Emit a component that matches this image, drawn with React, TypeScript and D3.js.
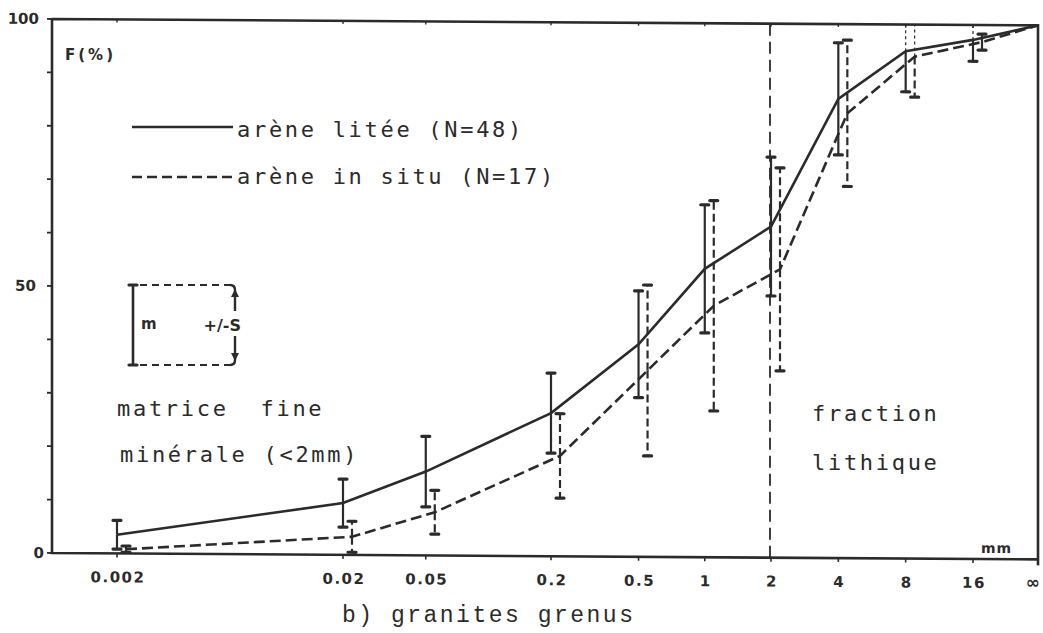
import React from "react";
import * as d3 from "d3";

// grain size classes (mm); 32 stands in for the "∞" end of the axis
const sizes = [0.002, 0.02, 0.05, 0.2, 0.5, 1, 2, 4, 8, 16, 32];
const sizeLabels = ["0.002", "0.02", "0.05", "0.2", "0.5", "1", "2", "4", "8", "16", "∞"];

// arène litée (N=48): mean cumulative % and standard deviation
const liteeMean = [3.5, 9.7, 15.7, 26.8, 39.8, 54, 62, 86, 95, 97.2, 100];
const liteeSd = [2.7, 4.5, 6.6, 7.5, 10, 12, 13, 10.5, 7.6, 4, 0];

// arène in situ (N=17)
const situMean = [0.8, 3.4, 8.1, 18.8, 34.9, 47.1, 54, 83.3, 94, 96.8, 100];
const situSd = [0.6, 2.9, 4.1, 7.9, 16, 19.7, 19, 13.7, 7.6, 1.5, 0];

const yTicks = [0, 10, 20, 30, 40, 50, 60, 70, 80, 90, 100];
const yLabels = [0, 50, 100];

const ink = "#2b2b2b";
const left = 52;
const shift = 9; // the in-situ bars are drawn a little to the right

const x = d3
  .scaleLog()
  .domain([0.002, 0.02, 0.2, 2, 16, 32])
  .range([117, 343, 551, 771, 973, 1038]);
const y = d3.scaleLinear().domain([0, 100]).range([553, 19]);
const right = x(32);

const last = sizes.length - 1;
const px = (i: number, situ: boolean) =>
  x(sizes[i]) + (situ && i < last ? shift : 0);

const ErrorBar = ({ cx, m, s, dashed }: { cx: number; m: number; s: number; dashed: boolean }) => {
  if (s <= 0) return null;
  const lo = Math.max(m - s, 0);
  const hi = m + s;
  const dash = dashed ? "8 4" : undefined;
  const w = 2.2;
  return (
    <g stroke={ink} fill="none">
      {hi > 99.5 ? (
        <line x1={cx} x2={cx} y1={y(m)} y2={y(100)} strokeWidth={1.2} strokeDasharray="3 3" />
      ) : (
        <>
          <line x1={cx} x2={cx} y1={y(m)} y2={y(hi)} strokeWidth={w} strokeDasharray={dash} />
          <line x1={cx - 4} x2={cx + 4} y1={y(hi)} y2={y(hi)} strokeWidth={3.2} strokeLinecap="round" />
        </>
      )}
      <line x1={cx} x2={cx} y1={y(m)} y2={y(lo)} strokeWidth={w} strokeDasharray={dash} />
      <line x1={cx - 4} x2={cx + 4} y1={y(lo)} y2={y(lo)} strokeWidth={3.2} strokeLinecap="round" />
    </g>
  );
};

const tickFont = "'DejaVu Sans', Verdana, sans-serif";
const monoFont = "'DejaVu Sans Mono', monospace";
const typeFont = "'Courier New', 'Liberation Mono', monospace";

export default function App() {
  const liteeLine = d3
    .line<number>()
    .x((d, i) => px(i, false))
    .y((d) => y(d));
  const situLine = d3
    .line<number>()
    .x((d, i) => px(i, true))
    .y((d) => y(d));

  return (
    <svg
      width={1043}
      height={633}
      style={{ position: "absolute", left: 0, top: 0, background: "#fff" }}
    >
      <g transform={`translate(${left} 0) skewY(0.37) translate(${-left} 0)`}>
        {/* frame */}
        <path
          d={`M${left},${y(100)} H${right} V${y(0) + 6} M${left},${y(100)} V${y(0)} H${right}`}
          fill="none"
          stroke={ink}
          strokeWidth={2.6}
        />
        {/* y ticks */}
        {yTicks.map((t) => (
          <line key={t} x1={left - 5} x2={left} y1={y(t)} y2={y(t)} stroke={ink} strokeWidth={1.8} />
        ))}
        {yLabels.map((t) => (
          <text
            key={t}
            x={t === 0 ? 44 : t === 50 ? 36 : 39}
            y={y(t) + 5}
            textAnchor="end"
            fontFamily={tickFont}
            fontWeight="bold"
            fontSize={15}
            fill={ink}
          >
            {t}
          </text>
        ))}
        {/* x ticks */}
        {sizes.map((s, i) => (
          <g key={i}>
            <line x1={x(s)} x2={x(s)} y1={y(0)} y2={y(0) + 4} stroke={ink} strokeWidth={1.6} />
            <line x1={x(s)} x2={x(s)} y1={y(100)} y2={y(100) + 3} stroke={ink} strokeWidth={1.4} />
            <text
              x={i === last ? x(s) + 2 : x(s) + 1}
              y={582}
              textAnchor={i === last ? "end" : "middle"}
              fontFamily={tickFont}
              fontWeight="bold"
              fontSize={i === last ? 17 : 15}
              letterSpacing={i === last ? 0 : 1.5}
              fill={ink}
            >
              {sizeLabels[i]}
            </text>
          </g>
        ))}
        <text x={x(16) + 8} y={y(0) - 6} fontFamily={tickFont} fontWeight="bold" fontSize={14} letterSpacing={1} fill={ink}>
          mm
        </text>

        {/* 2 mm limit */}
        <line
          x1={x(2) - 1}
          x2={x(2) - 1}
          y1={y(100)}
          y2={y(0)}
          stroke={ink}
          strokeWidth={1.8}
          strokeDasharray="12 6"
        />

        {/* curves */}
        <path d={liteeLine(liteeMean) ?? ""} fill="none" stroke={ink} strokeWidth={2.6} />
        <path
          d={situLine(situMean) ?? ""}
          fill="none"
          stroke={ink}
          strokeWidth={2.6}
          strokeDasharray="11 5"
        />
        {liteeMean.map((m, i) => (
          <ErrorBar key={"l" + i} cx={px(i, false)} m={m} s={liteeSd[i]} dashed={false} />
        ))}
        {situMean.map((m, i) => (
          <ErrorBar key={"s" + i} cx={px(i, true)} m={m} s={situSd[i]} dashed={true} />
        ))}
      </g>

      <text x={65} y={60} fontFamily={tickFont} fontWeight="bold" fontSize={15} letterSpacing={3} fill={ink}>
        F(%)
      </text>

      {/* legend */}
      <line x1={132} x2={233} y1={127} y2={127} stroke={ink} strokeWidth={2.6} />
      <line x1={132} x2={233} y1={177} y2={177} stroke={ink} strokeWidth={2.6} strokeDasharray="10 5" />
      <g fontFamily={monoFont} fontSize={22} letterSpacing={2.7} fill={ink}>
        <text x={237} y={137}>arène litée (N=48)</text>
        <text x={237} y={184}>arène in situ (N=17)</text>
        <text x={117} y={416} xmlSpace="preserve" style={{ whiteSpace: "pre" }}>
          matrice  fine
        </text>
        <text x={120} y={462}>minérale (&lt;2mm)</text>
        <text x={812} y={421}>fraction</text>
        <text x={812} y={470}>lithique</text>
      </g>

      {/* key box: m +/- s */}
      <g stroke={ink} fill="none">
        <line x1={133} x2={133} y1={285} y2={365} strokeWidth={2.6} />
        <line x1={129} x2={137} y1={285} y2={285} strokeWidth={3.2} strokeLinecap="round" />
        <line x1={129} x2={137} y1={365} y2={365} strokeWidth={3.2} strokeLinecap="round" />
        <line x1={140} x2={230} y1={285} y2={285} strokeWidth={2.2} strokeDasharray="7 5" />
        <line x1={140} x2={230} y1={365} y2={365} strokeWidth={2.2} strokeDasharray="7 5" />
        <path d="M230,285 Q235,285 235,290 V311" strokeWidth={2.4} />
        <path d="M235,336 V360 Q235,365 230,365" strokeWidth={2.4} />
      </g>
      <path d="M231,297 L235,289 L239,297 Z" fill={ink} />
      <path d="M231,353 L235,361 L239,353 Z" fill={ink} />
      <text x={141} y={329} fontFamily={tickFont} fontWeight="bold" fontSize={15} fill={ink}>
        m
      </text>
      <text x={241} y={331} textAnchor="end" fontFamily={tickFont} fontWeight="bold" fontSize={16} fill={ink}>
        +/-S
      </text>

      <text x={342} y={622} fontFamily={typeFont} fontSize={23} letterSpacing={2.5} fill={ink}>
        b) granites grenus
      </text>
    </svg>
  );
}
